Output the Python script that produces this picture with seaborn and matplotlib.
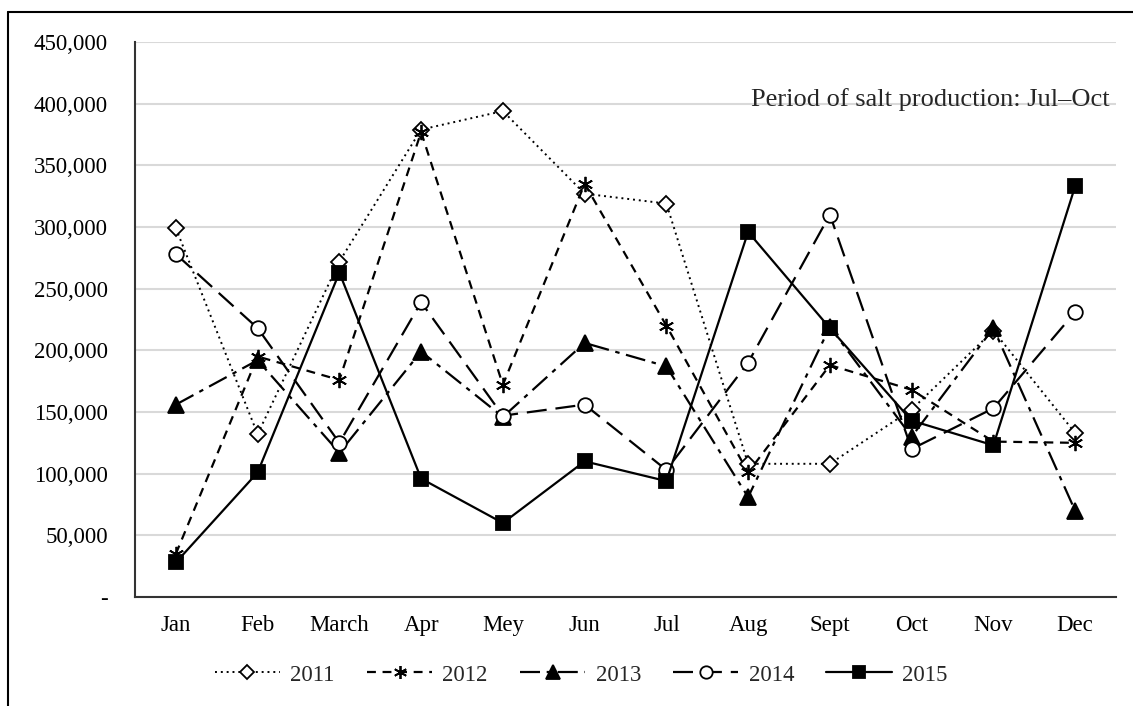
import matplotlib
matplotlib.use('Agg')
import matplotlib.pyplot as plt
from matplotlib.lines import Line2D
import seaborn as sns
import pandas as pd

# ---------- dados ----------
meses = ['Jan', 'Feb', 'March', 'Apr', 'Mey', 'Jun', 'Jul', 'Aug', 'Sept', 'Oct', 'Nov', 'Dec']

v2011 = [299000, 132000, 272000, 379000, 394000, 327000, 319000, 108000, 108000, 152000, 216000, 133000]
v2012 = [35000, 195000, 176000, 377000, 172000, 335000, 220000, 101000, 188000, 168000, 126000, 125000]
v2013 = [156000, 192000, 117000, 199000, 146000, 206000, 187000, 81000, 219000, 130000, 218000, 70000]
v2014 = [278000, 218000, 125000, 239000, 147000, 156000, 103000, 190000, 310000, 120000, 153000, 231000]
v2015 = [28000, 101000, 263000, 96000, 60000, 110000, 94000, 296000, 218000, 143000, 123000, 333000]

anos = ['2011', '2012', '2013', '2014', '2015']
yticks = [0, 50000, 100000, 150000, 200000, 250000, 300000, 350000, 400000, 450000]
ylabels = ['-', '50,000', '100,000', '150,000', '200,000', '250,000',
           '300,000', '350,000', '400,000', '450,000']

df = pd.DataFrame({'Mes': meses * 5,
                   'Ano': sum([[a] * 12 for a in anos], []),
                   'Valor': v2011 + v2012 + v2013 + v2014 + v2015})

# estilo de cada série
estilos = {
    '2011': dict(ls=(0, (1, 2)), lw=1.4, marker='D', ms=8, mfc='white'),
    '2012': dict(ls=(0, (4, 3)), lw=1.6, marker=(6, 2, 0), ms=11, mfc='black'),
    '2013': dict(ls=(0, (9, 3, 2, 3)), lw=1.6, marker='^', ms=11.5, mfc='black'),
    '2014': dict(ls=(0, (9, 4)), lw=1.6, marker='o', ms=10.5, mfc='white'),
    '2015': dict(ls='-', lw=1.6, marker='s', ms=10.5, mfc='black'),
}

sns.set_theme(style='white')
plt.rcParams['font.family'] = ['Liberation Serif', 'DejaVu Serif']
plt.rcParams['font.size'] = 16.5

fig = plt.figure(figsize=(11.33, 7.06), dpi=100)
ax = fig.add_axes([135 / 1133, 1 - 597 / 706, (1116 - 135) / 1133, (597 - 42) / 706])

handles = []
for ano in anos:
    e = estilos[ano]
    sub = df[df['Ano'] == ano]
    sns.lineplot(data=sub, x='Mes', y='Valor', ax=ax, color='black',
                 linestyle=e['ls'], linewidth=e['lw'], marker=e['marker'],
                 markersize=e['ms'], markerfacecolor=e['mfc'],
                 markeredgecolor='black', markeredgewidth=1.3, sort=False, legend=False)
    handles.append(Line2D([0], [0], color='black', linestyle=e['ls'], linewidth=e['lw'],
                          marker=e['marker'], markersize=e['ms'] * 0.85, markerfacecolor=e['mfc'],
                          markeredgecolor='black', markeredgewidth=1.3, label=ano))

ax.set_xlim(-0.5, 11.5)
ax.set_ylim(0, 450000)
ax.set_yticks(yticks)
ax.set_yticklabels(ylabels)
ax.set_xlabel('')
ax.set_ylabel('')
ax.tick_params(axis='both', length=0, labelsize=16.5, colors='black')
ax.tick_params(axis='x', pad=13)
ax.tick_params(axis='y', pad=19.5)
ax.grid(True, axis='y', color='#d9d9d9', linewidth=1.5)
ax.set_axisbelow(True)
for lado in ['top', 'right']:
    ax.spines[lado].set_visible(False)
for lado in ['left', 'bottom']:
    ax.spines[lado].set_color('#333333')
    ax.spines[lado].set_linewidth(1.5)

ax.text(0.993, 0.897, 'Period of salt production: Jul\u2013Oct', transform=ax.transAxes,
        ha='right', va='center', fontsize=19)

fig.legend(handles=handles, loc='center', bbox_to_anchor=(581 / 1133, 1 - 675 / 706), ncol=5,
           frameon=False, fontsize=16.5, handlelength=2.85, columnspacing=1.4, handletextpad=0.45)

# moldura (esquerda e topo)
fig.add_artist(Line2D([8 / 1133, 8 / 1133], [0, 1 - 12 / 706], transform=fig.transFigure,
                      color='black', linewidth=1.5))
fig.add_artist(Line2D([8 / 1133, 1], [1 - 12 / 706, 1 - 12 / 706], transform=fig.transFigure,
                      color='black', linewidth=1.5))

plt.savefig('out.png', dpi=100)
plt.close()
